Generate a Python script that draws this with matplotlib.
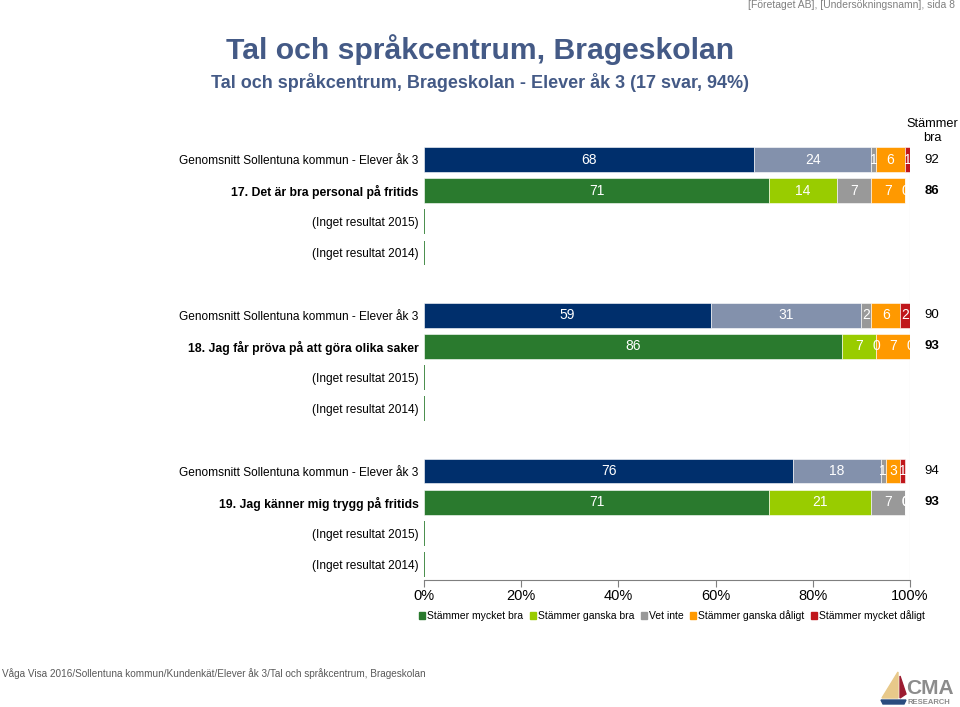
import numpy as np
import matplotlib
matplotlib.use("Agg")
import matplotlib.pyplot as plt
from matplotlib.patches import Polygon, Patch

plt.rcParams['font.family'] = ['Liberation Sans', 'DejaVu Sans']

# ---- data ----
row_labels = [
    "Genomsnitt Sollentuna kommun - Elever åk 3",
    "17. Det är bra personal på fritids",
    "(Inget resultat 2015)",
    "(Inget resultat 2014)",
    "Genomsnitt Sollentuna kommun - Elever åk 3",
    "18. Jag får pröva på att göra olika saker",
    "(Inget resultat 2015)",
    "(Inget resultat 2014)",
    "Genomsnitt Sollentuna kommun - Elever åk 3",
    "19. Jag känner mig trygg på fritids",
    "(Inget resultat 2015)",
    "(Inget resultat 2014)",
]
row_kind = ["avg", "school", "empty", "empty"] * 3

# mycket bra, ganska bra, vet inte, ganska dåligt, mycket dåligt
values = [
    [68, 24, 1, 6, 1],
    [71, 14, 7, 7, 0],
    None,
    None,
    [59, 31, 2, 6, 2],
    [86, 7, 0, 7, 0],
    None,
    None,
    [76, 18, 1, 3, 1],
    [71, 21, 7, 0, 0],
    None,
    None,
]
stammer_bra = [92, 86, None, None, 90, 93, None, None, 94, 93, None, None]

series_names = ["Stämmer mycket bra", "Stämmer ganska bra", "Vet inte",
                "Stämmer ganska dåligt", "Stämmer mycket dåligt"]
school_colors = ["#2A7A2E", "#99CC00", "#999999", "#FF9900", "#C0161B"]
avg_colors = ["#002F6C", "#8391AC", "#999999", "#FF9900", "#C0161B"]

# slot positions: 4 rows per group, one empty slot between groups
slots = [0, 1, 2, 3, 5, 6, 7, 8, 10, 11, 12, 13]

fig = plt.figure(figsize=(9.6, 7.07), dpi=100)
ax = fig.add_axes([424 / 960, 127 / 707, 486 / 960, 436 / 707])

for lbl, kind, vals, y in zip(row_labels, row_kind, values, slots):
    if vals is None:
        ax.barh(y, 0, height=0.8, color=school_colors[0],
                edgecolor=school_colors[0], linewidth=1.2)
        continue
    cols = avg_colors if kind == "avg" else school_colors
    left = 0
    for v, c in zip(vals, cols):
        ax.barh(y, v, left=left, height=0.8, color=c, edgecolor="white",
                linewidth=0.4)
        ax.text(left + v / 2, y, str(v), ha="center", va="center",
                color="white", fontsize=10, clip_on=True)
        left += v

ax.set_xlim(0, 100)
ax.set_ylim(13.5, -0.5)
ax.set_yticks(slots)
ax.set_yticklabels(row_labels, fontsize=8.6)
for t, kind in zip(ax.get_yticklabels(), row_kind):
    if kind == "school":
        t.set_fontweight("bold")
        t.set_fontsize(8.8)
ax.tick_params(axis="y", length=0, pad=4)
ax.set_xticks(np.arange(0, 101, 20))
ax.set_xticklabels([f"{v}%" for v in range(0, 101, 20)], fontsize=10.5)
ax.tick_params(axis="x", direction="out", length=5, color="#7F7F7F", pad=1.5)
for s in ["top", "left", "right"]:
    ax.spines[s].set_visible(False)
ax.spines["bottom"].set_color("#7F7F7F")
ax.axvline(100, color="#D9D9D9", linewidth=0.8, zorder=0)

# Stämmer bra column
ax.text(1.045, -0.92, "Stämmer\nbra", transform=ax.get_yaxis_transform(),
        ha="center", va="center", fontsize=9.2, linespacing=1.3)
for y, v, kind in zip(slots, stammer_bra, row_kind):
    if v is not None:
        ax.text(1.045, y, str(v), transform=ax.get_yaxis_transform(),
                ha="center", va="center", fontsize=9.5,
                fontweight="bold" if kind == "school" else "normal")

# legend
handles = [Patch(color=c) for c in school_colors]
fig.legend(handles, series_names, loc="center", bbox_to_anchor=(672 / 960, 1 - 616 / 707),
           ncol=5, frameon=False, fontsize=7.5, handlelength=0.6, handleheight=0.6,
           handletextpad=0.2, columnspacing=0.6)

# titles and header/footer
title_color = "#445A86"
fig.text(480 / 960, 1 - 50 / 707, "Tal och språkcentrum, Brageskolan", ha="center",
         va="center", fontsize=21.7, fontweight="bold", color=title_color)
fig.text(480 / 960, 1 - 82 / 707,
         "Tal och språkcentrum, Brageskolan - Elever åk 3 (17 svar, 94%)",
         ha="center", va="center", fontsize=13, fontweight="bold", color=title_color)
fig.text(955 / 960, 1 - 5 / 707, "[Företaget AB], [Undersökningsnamn], sida 8",
         ha="right", va="center", fontsize=7.5, color="#808080")
fig.text(2 / 960, 1 - 674 / 707,
         "Våga Visa 2016/Sollentuna kommun/Kundenkät/Elever åk 3/Tal och språkcentrum, Brageskolan",
         ha="left", va="center", fontsize=7.2, color="#595959")

# simple CMA logo
def fp(x, y):
    return (x / 960, 1 - y / 707)

fig.patches.append(Polygon([fp(898, 672), fp(882, 698), fp(898, 698)], closed=True,
                           transform=fig.transFigure, color="#E8C98A"))
fig.patches.append(Polygon([fp(900, 676), fp(900, 698), fp(906, 694)], closed=True,
                           transform=fig.transFigure, color="#9B1B30"))
fig.patches.append(Polygon([fp(881, 700), fp(906, 700), fp(904, 704), fp(883, 704)],
                           closed=True, transform=fig.transFigure, color="#2B4C7E"))
fig.text(906 / 960, 1 - 689 / 707, "CMA", ha="left", va="center", fontsize=15,
         fontweight="bold", color="#8C8C8C")
fig.text(907 / 960, 1 - 702 / 707, "RESEARCH", ha="left", va="center", fontsize=5.5,
         fontweight="bold", color="#8C8C8C")

fig.savefig("out.png", dpi=100)
